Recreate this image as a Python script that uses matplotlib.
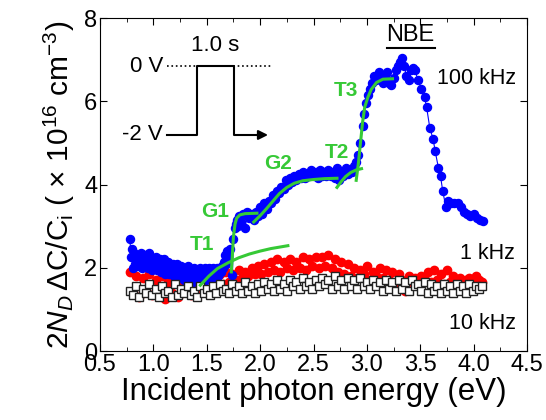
import matplotlib.pyplot as plt
from matplotlib.ticker import MultipleLocator, FormatStrFormatter

plt.rcParams['font.family'] = ['Liberation Sans', 'DejaVu Sans']
plt.rcParams['mathtext.fontset'] = 'custom'
plt.rcParams['mathtext.rm'] = 'Liberation Sans'
plt.rcParams['mathtext.it'] = 'Liberation Sans:italic'

# 100 kHz (blue) photon energy / signal
e_100k = [0.78, 0.79, 0.80, 0.81, 0.82, 0.83, 0.84, 0.85, 0.86, 0.87,
          0.88, 0.89, 0.90, 0.91, 0.92, 0.93, 0.94, 0.95, 0.96, 0.97,
          0.98, 0.99, 1.00, 1.01, 1.02, 1.03, 1.04, 1.05, 1.06, 1.07,
          1.08, 1.09, 1.10, 1.11, 1.12, 1.13, 1.14, 1.15, 1.16, 1.17,
          1.18, 1.19, 1.20, 1.21, 1.22, 1.23, 1.24, 1.25, 1.26, 1.27,
          1.28, 1.29, 1.30, 1.31, 1.32, 1.33, 1.34, 1.35, 1.36, 1.37,
          1.38, 1.39, 1.40, 1.41, 1.42, 1.43, 1.44, 1.45, 1.46, 1.47,
          1.48, 1.49, 1.50, 1.51, 1.52, 1.53, 1.54, 1.55, 1.56, 1.57,
          1.58, 1.59, 1.60, 1.61, 1.62, 1.63, 1.64, 1.65, 1.66, 1.67,
          1.68, 1.69, 1.70, 1.72, 1.74, 1.75, 1.76, 1.77, 1.78, 1.79,
          1.80, 1.82, 1.84, 1.86, 1.88, 1.90, 1.92, 1.94, 1.96, 1.98,
          2.00, 2.02, 2.04, 2.06, 2.08, 2.10, 2.12, 2.14, 2.16, 2.18,
          2.20, 2.22, 2.24, 2.26, 2.28, 2.30, 2.32, 2.34, 2.36, 2.38,
          2.40, 2.42, 2.44, 2.46, 2.48, 2.50, 2.52, 2.54, 2.56, 2.58,
          2.60, 2.62, 2.64, 2.66, 2.68, 2.70, 2.72, 2.74, 2.76, 2.78,
          2.80, 2.82, 2.84, 2.86, 2.88, 2.90, 2.92, 2.94, 2.96, 2.97,
          2.99, 3.01, 3.03, 3.05, 3.07, 3.09, 3.11, 3.13, 3.15, 3.17,
          3.19, 3.21, 3.23, 3.25, 3.27, 3.29, 3.31, 3.33, 3.35, 3.37,
          3.39, 3.41, 3.43, 3.45, 3.48, 3.51, 3.54, 3.56, 3.59, 3.62,
          3.64, 3.67, 3.69, 3.71, 3.74, 3.76, 3.79, 3.82, 3.85, 3.88,
          3.91, 3.94, 3.97, 4.00, 4.03, 4.06, 4.09]
s_100k = [2.70, 2.25, 2.45, 2.00, 2.35, 2.10, 2.30, 2.05, 2.25, 2.15,
          2.35, 2.00, 2.25, 2.05, 2.30, 2.10, 2.20, 2.00, 2.35, 2.10,
          2.25, 1.95, 2.20, 2.05, 2.25, 1.95, 2.15, 2.00, 2.20, 1.90,
          2.15, 2.00, 2.20, 1.85, 2.10, 1.95, 2.15, 1.85, 2.05, 1.90,
          2.10, 1.80, 2.05, 1.90, 2.10, 1.80, 2.00, 1.85, 2.05, 1.75,
          2.00, 1.70, 1.95, 1.80, 2.05, 1.70, 1.95, 1.75, 1.90, 1.65,
          2.00, 1.75, 1.90, 1.70, 1.95, 1.75, 2.00, 1.70, 1.85, 1.75,
          2.00, 1.70, 1.90, 1.80, 2.00, 1.75, 1.95, 1.80, 2.00, 1.75,
          1.95, 1.85, 2.00, 1.80, 1.95, 1.90, 2.05, 2.00, 2.15, 2.30,
          2.10, 2.40, 2.25, 2.45, 1.82, 2.70, 2.95, 3.05, 3.15, 3.00,
          3.25, 3.10, 3.30, 2.95, 3.35, 3.20, 3.30, 3.15, 3.35, 3.25,
          3.45, 3.30, 3.55, 3.40, 3.60, 3.55, 3.75, 3.65, 3.85, 3.80,
          3.95, 3.90, 4.10, 4.00, 4.15, 4.05, 4.20, 4.10, 4.25, 4.15,
          4.30, 4.15, 4.25, 4.20, 4.35, 4.20, 4.30, 4.15, 4.35, 4.20,
          4.30, 4.20, 4.35, 4.20, 4.30, 4.15, 4.40, 4.10, 4.30, 4.20,
          4.40, 4.25, 4.35, 4.30, 4.45, 4.55, 4.70, 5.00, 5.40, 5.70,
          5.95, 6.15, 6.30, 6.45, 6.60, 6.50, 6.70, 6.55, 6.45, 6.60,
          6.70, 6.45, 6.40, 6.55, 6.75, 6.85, 6.95, 7.05, 6.85, 6.60,
          6.50, 6.75, 6.80, 6.75, 6.50, 6.30, 6.10, 5.85, 5.35, 5.10,
          4.80, 4.40, 4.20, 3.85, 3.46, 3.60, 3.55, 3.55, 3.55, 3.45,
          3.35, 3.30, 3.25, 3.30, 3.20, 3.15, 3.12]

# 1 kHz (red) and 10 kHz (open squares), same energy grid
e_low = [0.78, 0.81, 0.84, 0.87, 0.90, 0.93, 0.96, 0.99, 1.02, 1.05,
         1.08, 1.11, 1.14, 1.17, 1.20, 1.23, 1.26, 1.29, 1.32, 1.35,
         1.38, 1.41, 1.44, 1.47, 1.50, 1.53, 1.56, 1.59, 1.62, 1.65,
         1.68, 1.71, 1.74, 1.77, 1.80, 1.83, 1.86, 1.89, 1.92, 1.95,
         1.98, 2.01, 2.04, 2.07, 2.10, 2.13, 2.16, 2.19, 2.22, 2.25,
         2.28, 2.31, 2.34, 2.37, 2.40, 2.43, 2.46, 2.49, 2.52, 2.55,
         2.58, 2.61, 2.64, 2.67, 2.70, 2.73, 2.76, 2.79, 2.82, 2.85,
         2.88, 2.91, 2.94, 2.97, 3.00, 3.03, 3.06, 3.09, 3.12, 3.15,
         3.18, 3.21, 3.24, 3.27, 3.30, 3.33, 3.36, 3.39, 3.42, 3.45,
         3.48, 3.51, 3.54, 3.57, 3.60, 3.63, 3.66, 3.69, 3.72, 3.75,
         3.78, 3.81, 3.84, 3.87, 3.90, 3.93, 3.96, 3.99, 4.02, 4.05,
         4.08]
s_1k = [1.90, 1.40, 1.80, 1.30, 1.75, 1.45, 1.85, 1.35, 1.70, 1.50,
        1.80, 1.25, 1.65, 1.40, 1.75, 1.30, 1.60, 1.45, 1.70, 1.35,
        1.65, 1.40, 1.70, 1.45, 1.75, 1.50, 1.80, 1.55, 1.85, 1.60,
        1.90, 1.65, 1.85, 1.70, 1.95, 1.75, 1.90, 1.80, 2.00, 1.85,
        2.05, 1.85, 2.10, 1.90, 2.15, 1.95, 2.20, 1.90, 2.15, 2.00,
        2.20, 1.95, 2.15, 2.00, 2.25, 1.95, 2.20, 2.05, 2.25, 2.00,
        2.25, 2.05, 2.30, 2.00, 2.20, 1.90, 2.15, 1.85, 2.10, 1.80,
        2.00, 1.75, 1.95, 1.85, 2.05, 1.70, 1.90, 1.80, 2.00, 1.75,
        1.95, 1.70, 1.90, 1.60, 1.85, 1.70, 1.45, 1.80, 1.65, 1.75,
        1.60, 1.80, 1.70, 1.90, 1.65, 1.95, 1.70, 1.85, 1.60, 1.95,
        1.65, 1.80, 1.55, 1.75, 1.60, 1.70, 1.75, 1.65, 1.80, 1.70,
        1.65]
s_10k = [1.45, 1.35, 1.55, 1.30, 1.50, 1.40, 1.60, 1.35, 1.50, 1.30,
         1.55, 1.40, 1.45, 1.30, 1.60, 1.35, 1.50, 1.40, 1.55, 1.35,
         1.45, 1.30, 1.55, 1.40, 1.50, 1.35, 1.55, 1.40, 1.60, 1.45,
         1.50, 1.40, 1.60, 1.45, 1.55, 1.40, 1.65, 1.45, 1.55, 1.40,
         1.60, 1.45, 1.65, 1.50, 1.60, 1.45, 1.70, 1.50, 1.60, 1.45,
         1.70, 1.55, 1.65, 1.50, 1.75, 1.55, 1.65, 1.50, 1.70, 1.55,
         1.75, 1.60, 1.70, 1.50, 1.80, 1.55, 1.70, 1.50, 1.75, 1.55,
         1.70, 1.50, 1.75, 1.55, 1.65, 1.50, 1.70, 1.55, 1.65, 1.45,
         1.70, 1.50, 1.65, 1.45, 1.70, 1.50, 1.65, 1.45, 1.70, 1.55,
         1.60, 1.45, 1.65, 1.40, 1.60, 1.45, 1.55, 1.40, 1.60, 1.45,
         1.55, 1.40, 1.60, 1.45, 1.55, 1.40, 1.60, 1.45, 1.55, 1.50,
         1.55]

# green fitted components
t1_x = [1.44, 1.52, 1.60, 1.70, 1.80, 1.90, 2.00, 2.10, 2.26]
t1_y = [1.58, 1.80, 1.98, 2.12, 2.24, 2.33, 2.40, 2.46, 2.53]
g1_x = [1.73, 1.74, 1.75, 1.765, 1.78, 1.81, 1.86, 1.97]
g1_y = [1.90, 2.30, 2.75, 3.05, 3.19, 3.27, 3.30, 3.31]
g2_x = [1.94, 2.00, 2.06, 2.12, 2.18, 2.25, 2.32, 2.40, 2.50, 2.60, 2.72]
g2_y = [3.10, 3.25, 3.42, 3.60, 3.78, 3.93, 4.03, 4.09, 4.12, 4.14, 4.15]
t2_x = [2.72, 2.76, 2.80, 2.85, 2.90, 2.95]
t2_y = [3.93, 4.07, 4.19, 4.29, 4.35, 4.38]
t3_x = [2.90, 2.92, 2.94, 2.96, 2.98, 3.01, 3.04, 3.09, 3.15, 3.24]
t3_y = [4.10, 4.50, 5.00, 5.50, 5.86, 6.10, 6.28, 6.45, 6.53, 6.54]

green = '#36c936'

fig = plt.figure(figsize=(5.46, 4.2), dpi=100)
ax = fig.add_axes([100/546, 69/420, 427/546, 333/420])

ax.plot(e_low, s_1k, 'o', color='red', ms=6, mec='red', zorder=2)
ax.plot(e_100k, s_100k, '-o', color='blue', ms=5.8, lw=0.8, zorder=3)
ax.plot(e_low, s_10k, 's', mfc='white', mec='#222222', mew=1.0, ms=5.5, zorder=4)

for xs, ys in [(t1_x, t1_y), (g1_x, g1_y), (g2_x, g2_y), (t2_x, t2_y), (t3_x, t3_y)]:
    ax.plot(xs, ys, '-', color=green, lw=2.2, zorder=5)

lbl = dict(color=green, fontsize=15, fontweight='bold', ha='center', va='center', zorder=6)
ax.text(1.46, 2.55, 'T1', **lbl)
ax.text(1.58, 3.34, 'G1', **lbl)
ax.text(2.17, 4.51, 'G2', **lbl)
ax.text(2.72, 4.78, 'T2', **lbl)
ax.text(2.80, 6.25, 'T3', **lbl)

# pulse sketch
ax.plot([1.13, 1.41, 1.41, 1.755, 1.755, 2.0], [5.19, 5.19, 6.84, 6.84, 5.19, 5.19],
        color='black', lw=1.5, zorder=6)
ax.annotate('', xy=(2.10, 5.19), xytext=(1.98, 5.19),
            arrowprops=dict(arrowstyle='-|>', color='black', lw=1.5, mutation_scale=14))
ax.plot([1.13, 2.10], [6.84, 6.84], ':', color='black', lw=1.2, zorder=5)
ax.text(1.09, 6.84, '0 V', fontsize=16, ha='right', va='center')
ax.text(1.09, 5.19, '-2 V', fontsize=16, ha='right', va='center')
ax.text(1.58, 7.35, '1.0 s', fontsize=16, ha='center', va='center')

ax.text(3.41, 7.58, 'NBE', fontsize=17, ha='center', va='center')
ax.plot([3.19, 3.64], [7.27, 7.27], color='black', lw=1.5)
ax.text(4.03, 6.55, '100 kHz', fontsize=15.5, ha='center', va='center')
ax.text(4.13, 2.35, '1 kHz', fontsize=15.5, ha='center', va='center')
ax.text(4.08, 0.67, '10 kHz', fontsize=15.5, ha='center', va='center')

ax.set_xlim(0.5, 4.5)
ax.set_ylim(0, 8)
ax.xaxis.set_major_locator(MultipleLocator(0.5))
ax.xaxis.set_minor_locator(MultipleLocator(0.25))
ax.xaxis.set_major_formatter(FormatStrFormatter('%.1f'))
ax.yaxis.set_major_locator(MultipleLocator(2))
ax.tick_params(which='both', direction='in', top=True, right=True, labelsize=17)
ax.tick_params(which='major', length=5, pad=2)
ax.tick_params(which='minor', length=3)

ax.set_xlabel('Incident photon energy (eV)', fontsize=22.5, labelpad=1)
ax.set_ylabel(r'2$\mathit{N_D}$$\,\Delta$C/C$_\mathrm{i}$ ( $\times$ 10$^{16}$ cm$^{-3}$)',
              fontsize=21.5, labelpad=5)

fig.savefig('out.png', dpi=100)
